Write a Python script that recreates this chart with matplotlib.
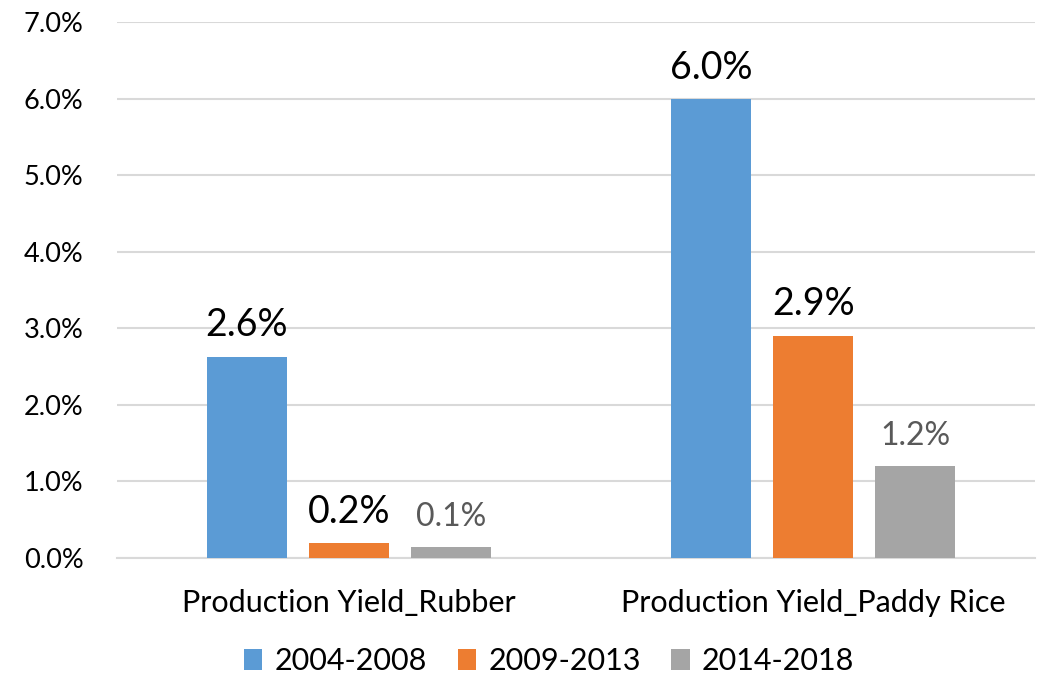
import matplotlib
matplotlib.use("Agg")
import matplotlib.pyplot as plt
import numpy as np

categories = ["Production Yield_Rubber", "Production Yield_Paddy Rice"]
series_names = ["2004-2008", "2009-2013", "2014-2018"]
values_0408 = [2.63, 5.99]
values_0913 = [0.19, 2.90]
values_1418 = [0.15, 1.20]
labels_0408 = ["2.6%", "6.0%"]
labels_0913 = ["0.2%", "2.9%"]
labels_1418 = ["0.1%", "1.2%"]
yticks = [0, 1, 2, 3, 4, 5, 6, 7]
ytick_labels = ["0.0%", "1.0%", "2.0%", "3.0%", "4.0%", "5.0%", "6.0%", "7.0%"]

colors = ["#5B9BD5", "#ED7D31", "#A5A5A5"]
label_colors = ["#000000", "#000000", "#595959"]
label_sizes = [27, 27, 23]

plt.rcParams["font.family"] = ["Lato", "DejaVu Sans"]

fig = plt.figure(figsize=(10.5, 6.8), dpi=100)
ax = fig.add_axes([117/1050, 1 - 558/680, (1035-117)/1050, (558-22)/680])

x = np.arange(len(categories))
width = 0.172
step = 0.22
all_vals = [values_0408, values_0913, values_1418]
all_labels = [labels_0408, labels_0913, labels_1418]
for i, (vals, labs) in enumerate(zip(all_vals, all_labels)):
    pos = x + (i - 1) * step
    bars = ax.bar(pos, vals, width, color=colors[i], label=series_names[i], zorder=3)
    for b, lab in zip(bars, labs):
        ax.annotate(lab, (b.get_x() + b.get_width() / 2, b.get_height()),
                    xytext=(0, 15), textcoords="offset points",
                    ha="center", va="baseline", fontsize=label_sizes[i],
                    color=label_colors[i])

ax.set_xlim(-0.5, 1.478)
ax.set_ylim(0, 7)
ax.set_yticks(yticks)
ax.set_yticklabels(ytick_labels, fontsize=19.5)
ax.set_xticks(x)
ax.set_xticklabels(categories, fontsize=22)
ax.tick_params(axis="y", length=0, pad=24)
ax.tick_params(axis="x", length=0, pad=22)
ax.grid(axis="y", color="#D9D9D9", linewidth=1.5, zorder=0)
for s in ["top", "right", "left"]:
    ax.spines[s].set_visible(False)
ax.spines["bottom"].set_color("#D9D9D9")
ax.spines["bottom"].set_linewidth(1.5)

leg = fig.legend(loc="center", bbox_to_anchor=(0.523, 1 - 661/680), ncol=3,
                 frameon=False, fontsize=22, handlelength=0.6, handleheight=0.7,
                 handletextpad=0.4, columnspacing=1.0)

fig.savefig("out.png", dpi=100)
